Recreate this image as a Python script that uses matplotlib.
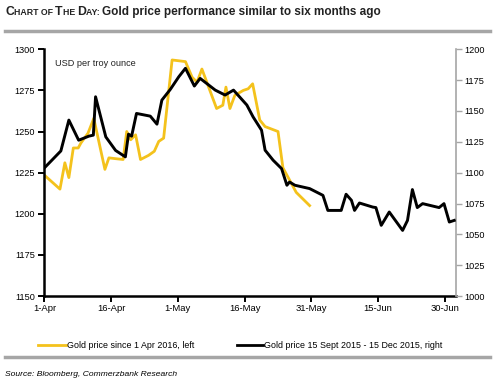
import numpy as np
import matplotlib
matplotlib.use("Agg")
import matplotlib.pyplot as plt
from matplotlib.lines import Line2D

plt.rcParams['font.family'] = ['Liberation Sans', 'DejaVu Sans']

# days since 1 Apr, gold price since 1 Apr 2016 (left axis)
gold16_day = [0.2, 3.5, 4.6, 5.5, 6.5, 7.6, 8.2, 9.8, 11.1, 13.6, 14.5, 16.0, 17.7,
              18.5, 19.4, 20.5, 21.6, 23.4, 24.7, 25.7, 26.8, 28.7, 31.7, 33.2, 34.3,
              35.4, 36.5, 38.7, 40.1, 40.8, 41.7, 42.8, 44.7, 45.8, 46.8, 48.4, 49.6,
              52.5, 53.6, 54.8, 56.6, 59.6]
gold16_val = [1223, 1215, 1231, 1222, 1240, 1240, 1243, 1249, 1258, 1227, 1234, 1233.5,
              1233, 1250, 1245, 1248, 1233, 1235.5, 1238, 1244, 1246, 1293.5, 1292.5,
              1283, 1280, 1288, 1280, 1264, 1266, 1277, 1264, 1272, 1275, 1276, 1279,
              1257, 1253, 1250, 1228, 1222, 1213, 1205]

# same calendar offset, gold price 15 Sep 2015 - 15 Dec 2015 (right axis)
gold15_day = [0.2, 3.7, 5.5, 7.7, 10.0, 11.0, 11.5, 13.8, 16.0, 18.2, 18.9, 19.6, 20.7,
              23.8, 25.3, 26.4, 28.3, 30.2, 31.7, 33.7, 35.0, 38.4, 40.6, 42.5, 45.5,
              46.9, 48.8, 49.6, 51.4, 53.3, 54.5, 55.1, 56.3, 59.6, 62.6, 63.7, 66.7,
              67.8, 69.0, 69.7, 70.8, 73.8, 74.5, 75.7, 77.5, 80.5, 81.6, 82.7, 83.8,
              85.0, 88.7, 89.8, 91.0, 92.1]
gold15_val = [1104.6, 1117.6, 1142.6, 1126.3, 1129.6, 1130.4, 1161.5, 1129, 1118, 1112.8,
              1131.2, 1129.6, 1148, 1145.8, 1139.3, 1158.8, 1167.5, 1177.7, 1184.6,
              1170.2, 1176.4, 1166.9, 1162.9, 1166.9, 1154.8, 1145.2, 1134.4, 1118.2,
              1110.1, 1103.3, 1089.8, 1092.4, 1089.8, 1087.1, 1081.6, 1069.4, 1069.4,
              1082.5, 1077.6, 1069.4, 1075.4, 1072.1, 1071.7, 1057.3, 1068.1, 1053.2,
              1061.3, 1086.3, 1071.7, 1074.9, 1071.7, 1074.9, 1060, 1061.3]

xtick_pos = [0, 15, 30, 45, 60, 75, 90]
xtick_lab = ['1-Apr', '16-Apr', '1-May', '16-May', '31-May', '15-Jun', '30-Jun']
left_ticks = [1150, 1175, 1200, 1225, 1250, 1275, 1300]
right_ticks = [1000, 1025, 1050, 1075, 1100, 1125, 1150, 1175, 1200]

YELLOW = '#F4C21C'
GREY = '#A6A6A6'

fig = plt.figure(figsize=(5, 3.88), dpi=100)
ax = fig.add_axes([0.087, 0.237, 0.825, 0.636])
ax2 = ax.twinx()

ax.plot(gold16_day, gold16_val, color=YELLOW, lw=2.0, zorder=2)
ax2.plot(gold15_day, gold15_val, color='black', lw=2.1, zorder=3)

ax.set_xlim(-0.2, 92.5)
ax.set_ylim(1150, 1300)
ax2.set_ylim(1000, 1200)
ax.set_xticks(xtick_pos)
ax.set_xticklabels(xtick_lab)
ax.set_yticks(left_ticks)
ax2.set_yticks(right_ticks)

for a in (ax, ax2):
    a.spines['top'].set_visible(False)
ax.spines['left'].set_linewidth(1.8)
ax.spines['bottom'].set_linewidth(1.8)
ax2.spines['left'].set_visible(False)
ax2.spines['bottom'].set_visible(False)
ax2.spines['right'].set_color(GREY)
ax2.spines['right'].set_linewidth(1.2)
ax.spines['right'].set_visible(False)

ax.tick_params(axis='y', labelsize=6.6, length=4, width=1.4, color='black', pad=2)
ax.tick_params(axis='x', labelsize=6.8, length=4, width=1.4, color='black', pad=2)
ax2.tick_params(axis='y', labelsize=6.6, length=4, width=1.0, color=GREY, pad=2)

fig.text(55 / 500, 1 - 64 / 388, 'USD per troy ounce', fontsize=6.6,
         ha='left', va='center', color='#222222')

# title with small caps lead-in, sized to the reference widths
fig.canvas.draw()
renderer = fig.canvas.get_renderer()
lead = [('C', 10), ('HART OF ', 7.2), ('T', 10), ('HE ', 7.2), ('D', 10), ('AY: ', 7.2)]
title_main = 'Gold price performance similar to six months ago'

probe = fig.text(0, 0, title_main, fontsize=10, fontweight='bold')
main_size = 10 * 279 / probe.get_window_extent(renderer).width
probe.remove()

lead_w = 0
for s, size in lead:
    p = fig.text(0, 0, s, fontsize=size, fontweight='bold')
    lead_w += p.get_window_extent(renderer).width
    p.remove()
lead_scale = 97 / lead_w

x = 5
for s, size in lead + [(title_main, main_size / lead_scale)]:
    t = fig.text(x / 500, 1 - 15 / 388, s, fontsize=size * lead_scale, fontweight='bold',
                 ha='left', va='baseline', color='#222222')
    x = t.get_window_extent(renderer).x1

fig.add_artist(Line2D([5 / 500, 490 / 500], [1 - 31 / 388, 1 - 31 / 388],
                      color=GREY, lw=2.5))
fig.add_artist(Line2D([5 / 500, 490 / 500], [1 - 357 / 388, 1 - 357 / 388],
                      color=GREY, lw=2.5))

# legend
ly = 1 - 345 / 388
fig.add_artist(Line2D([38 / 500, 66 / 500], [ly, ly], color=YELLOW, lw=2.0))
fig.text(67 / 500, ly, 'Gold price since 1 Apr 2016, left', fontsize=6.4,
         ha='left', va='center')
fig.add_artist(Line2D([237 / 500, 263 / 500], [ly, ly], color='black', lw=2.0))
fig.text(264 / 500, ly, 'Gold price 15 Sept 2015 - 15 Dec 2015, right', fontsize=6.4,
         ha='left', va='center')

fig.text(5 / 500, 1 - 375 / 388, 'Source: Bloomberg, Commerzbank Research',
         fontsize=6.1, style='italic', ha='left', va='center')

fig.savefig('out.png', dpi=100)
